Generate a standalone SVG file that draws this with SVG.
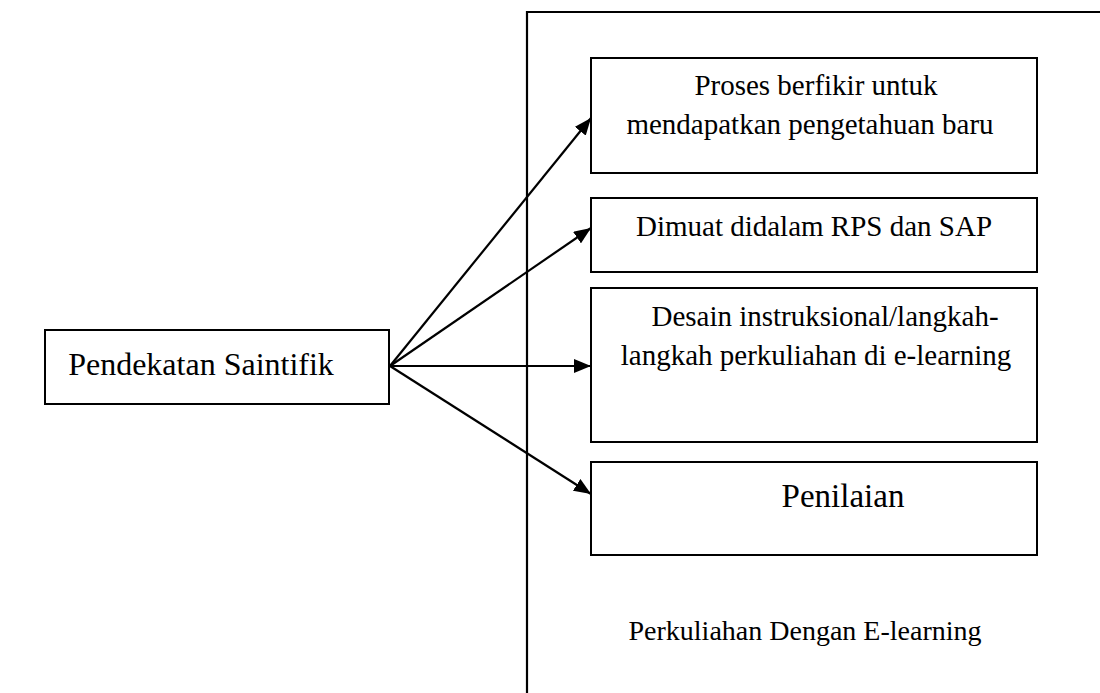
<svg xmlns="http://www.w3.org/2000/svg" width="1100" height="693" viewBox="0 0 1100 693">
<style>
.box{fill:#fff;stroke:#000;stroke-width:2}
text{font-family:'Liberation Serif','Times New Roman',Times,serif;fill:#000;text-anchor:middle}
.c{stroke:#000;stroke-width:2.2;fill:none}
</style>
<defs>
<marker id="ah" markerUnits="userSpaceOnUse" markerWidth="18" markerHeight="14" refX="17" refY="7" orient="auto">
<path d="M0,0 L17,7 L0,14 Z" fill="#000"/>
</marker>
</defs>
<rect width="1100" height="693" fill="#fff"/>
<g id="frame">
<path d="M527,693 L527,12 L1100,12" class="c" stroke-width="2"/>
<text x="805" y="640" font-size="28" font-family="Liberation Serif, serif">Perkuliahan Dengan E-learning</text>
</g>
<g id="n0">
<rect class="box" x="45" y="330" width="344" height="74"/>
<text x="201" y="375" font-size="32" font-family="Liberation Serif, serif">Pendekatan Saintifik</text>
</g>
<g id="n1">
<rect class="box" x="591" y="58" width="446" height="115"/>
<text x="816" y="95" font-size="29" font-family="Liberation Serif, serif">Proses berfikir untuk</text>
<text x="810" y="134" font-size="29" font-family="Liberation Serif, serif">mendapatkan pengetahuan baru</text>
</g>
<g id="n2">
<rect class="box" x="591" y="198" width="446" height="74"/>
<text x="814" y="236" font-size="29" font-family="Liberation Serif, serif">Dimuat didalam RPS dan SAP</text>
</g>
<g id="n3">
<rect class="box" x="591" y="288" width="446" height="154"/>
<text x="825" y="326" font-size="29" font-family="Liberation Serif, serif">Desain instruksional/langkah-</text>
<text x="816" y="365" font-size="29" font-family="Liberation Serif, serif">langkah perkuliahan di e-learning</text>
</g>
<g id="n4">
<rect class="box" x="591" y="462" width="446" height="93"/>
<text x="843" y="507" font-size="33" font-family="Liberation Serif, serif">Penilaian</text>
</g>
<g id="connectors">
<line class="c" x1="390" y1="366" x2="591" y2="118" marker-end="url(#ah)"/>
<line class="c" x1="390" y1="366" x2="591" y2="228" marker-end="url(#ah)"/>
<line class="c" x1="390" y1="366" x2="591" y2="366" marker-end="url(#ah)"/>
<line class="c" x1="390" y1="366" x2="591" y2="494" marker-end="url(#ah)"/>
</g>
</svg>
